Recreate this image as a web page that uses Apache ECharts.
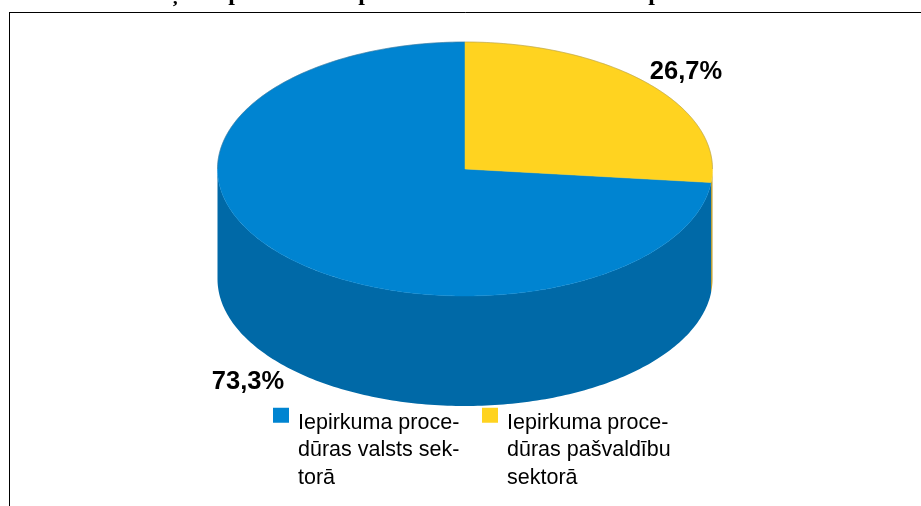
<!DOCTYPE html>
<html>
<head>
<meta charset="utf-8">
<style>
html, body { margin: 0; padding: 0; background: #fff; overflow: hidden; }
#main { width: 921px; height: 506px; }
</style>
</head>
<body>
<div id="main"></div>
<script src="https://cdn.jsdelivr.net/npm/echarts@6/dist/echarts.min.js"></script>
<script>
var categories = ['Iepirkuma proce-\ndūras valsts sek-\ntorā', 'Iepirkuma proce-\ndūras pašvaldību\nsektorā'];
var values = [73.3, 26.7];
var labels = ['73,3%', '26,7%'];
var colors = ['#0084d1', '#ffd320'];
var wallColors = ['#0069a7', '#b89a2a'];
var labelPos = [[248, 382], [686, 72]];
var legendLeft = [273, 482];
// only the lower edge of the title survives in the picture
var titleGlyphs = ['ņ', 'p', 'p', 'p'];
var titleX = [175, 235, 365, 655];

var cx = 465, cy = 169, rx = 247.5, ry = 127, depth = 110;

function pt(deg, dy) {
    var a = deg * Math.PI / 180;
    return [cx + rx * Math.sin(a), cy - ry * Math.cos(a) + (dy || 0)];
}

// angles run clockwise from 12 o'clock, slices are laid counter-clockwise
function arc(from, to, dy) {
    var out = [], n = Math.max(2, Math.ceil(Math.abs(to - from)));
    for (var i = 0; i <= n; i++) out.push(pt(from + (to - from) * i / n, dy));
    return out;
}

function makeRender(idx) {
    return function (params, api) {
        var total = values.reduce(function (a, b) { return a + b; }, 0);
        var before = 0;
        for (var i = 0; i < idx; i++) before += values[i];
        var end = 360 - before / total * 360;
        var start = end - api.value(0) / total * 360;
        var children = [];

        // visible part of the outer wall is 90..270 deg
        var wFrom = Math.max(start, 90), wTo = Math.min(end, 270);
        if (wTo > wFrom) {
            children.push({
                type: 'polygon',
                shape: { points: arc(wFrom, wTo, 0).concat(arc(wTo, wFrom, depth)) },
                style: { fill: wallColors[idx] }
            });
        }
        children.push({
            type: 'polygon',
            shape: { points: [[cx, cy]].concat(arc(start, end, 0)) },
            style: { fill: colors[idx], stroke: colors[idx], lineWidth: 0.5 }
        });
        // thin grey rim along the back edge
        var rim = null;
        if (end > 270) rim = arc(Math.max(start, 270), end, 0);
        if (start < 90) rim = arc(start, Math.min(end, 90), 0);
        if (rim) {
            children.push({
                type: 'polyline',
                shape: { points: rim },
                style: { fill: null, stroke: 'rgba(110,110,110,0.55)', lineWidth: 0.6 }
            });
        }
        children.push({
            type: 'text',
            style: {
                x: labelPos[idx][0], y: labelPos[idx][1],
                text: labels[idx],
                fill: '#000',
                font: 'bold 25.5px "Liberation Sans"',
                align: 'center', verticalAlign: 'middle'
            }
        });
        return { type: 'group', children: children };
    };
}

var graphics = [
    { type: 'line', shape: { x1: 9.5, y1: 12.5, x2: 921, y2: 12.5 }, style: { stroke: '#000', lineWidth: 1 } },
    { type: 'line', shape: { x1: 9.5, y1: 12, x2: 9.5, y2: 506 }, style: { stroke: '#000', lineWidth: 1 } }
];
titleGlyphs.forEach(function (g, i) {
    graphics.push({
        type: 'text', x: titleX[i], y: 6,
        style: { text: g, fill: '#000', font: 'bold 24px "Liberation Serif"', align: 'center', verticalAlign: 'bottom' }
    });
});

var option = {
    animation: false,
    backgroundColor: '#fff',
    graphic: graphics,
    legend: categories.map(function (name, i) {
        return {
            data: [name],
            left: legendLeft[i],
            top: 369,
            padding: 0,
            icon: 'rect',
            itemWidth: 16,
            itemHeight: 15,
            itemGap: 0,
            selectedMode: false,
            // tall blank line on top keeps the square level with the first text line
            formatter: function (n) {
                return '{g| }\n' + n.split('\n').map(function (s) { return '{t|' + s + '}'; }).join('\n');
            },
            textStyle: {
                color: '#000',
                padding: [0, 0, 0, 4],
                rich: {
                    g: { fontSize: 10, lineHeight: 70 },
                    t: { fontFamily: 'Liberation Sans', fontSize: 21.5, lineHeight: 27.5, color: '#000' }
                }
            }
        };
    }),
    series: categories.map(function (name, i) {
        return {
            name: name,
            type: 'custom',
            coordinateSystem: 'none',
            itemStyle: { color: colors[i] },
            data: [[values[i]]],
            renderItem: makeRender(i)
        };
    })
};

var chart = echarts.init(document.getElementById('main'), null, { renderer: 'canvas' });
chart.setOption(option);
</script>
</body>
</html>
